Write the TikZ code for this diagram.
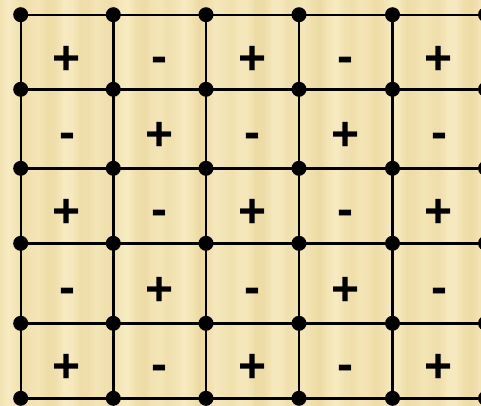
\documentclass[tikz,border=0pt]{standalone}
\usepackage{fontspec}
\setmainfont{Liberation Sans}
\definecolor{bgL}{RGB}{249,237,198}
\definecolor{bgD}{RGB}{234,214,155}
\newcommand{\signsize}{48}
\tikzset{
  gridline/.style={line width=2.4pt, black},
  dot/.style={circle, fill=black, inner sep=0pt, minimum size=15pt},
  sign/.style={font=\fontsize{\signsize}{\signsize}\selectfont\bfseries, inner sep=0pt, anchor=base},
  plussign/.style={sign, yshift=-17pt},
  minussign/.style={sign, yshift=-15pt},
}
\begin{document}
\begin{tikzpicture}[x=1pt,y=-1pt]
\useasboundingbox (0,0) rectangle (481,405);
\clip (0,0) rectangle (481,405);
% striped background
\foreach \k in {0,...,60}{
  \pgfmathsetmacro\xa{\k*8}
  \pgfmathtruncatemacro\pa{55+25*sin(\k*97)+15*sin(\k*53)}
  \pgfmathtruncatemacro\pb{55+25*sin((\k+1)*97)+15*sin((\k+1)*53)}
  \shade[left color=bgL!\pa!bgD, right color=bgL!\pb!bgD] (\xa-0.4,0) rectangle (\xa+8.4,405);
}
% dots
\foreach \i/\x in {1/20.7,2/113.3,3/206,4/299,5/392.5,6/485.5}{
  \foreach \j/\y in {1/14.7,2/89.3,3/168.3,4/243.3,5/323.3,6/398.3}{
    \node[dot] (d\i-\j) at (\x,\y) {};
  }
}
% grid lines
\foreach \j in {1,...,6}{ \draw[gridline] (d1-\j) -- (d6-\j); }
\foreach \i in {1,...,6}{ \draw[gridline] (d\i-1) -- (d\i-6); }
% signs
\foreach \c/\x in {1/67,2/159.7,3/252.6,4/345.8,5/439}{
  \foreach \r/\y in {1/57,2/133.8,3/210.8,4/288.3,5/365.8}{
    \pgfmathtruncatemacro\parity{mod(\c+\r,2)}
    \ifnum\parity=0
      \node[plussign] (s\c-\r) at (\x,\y) {+};
    \else
      \node[minussign] (s\c-\r) at (\x,\y) {-};
    \fi
  }
}
\end{tikzpicture}
\end{document}
